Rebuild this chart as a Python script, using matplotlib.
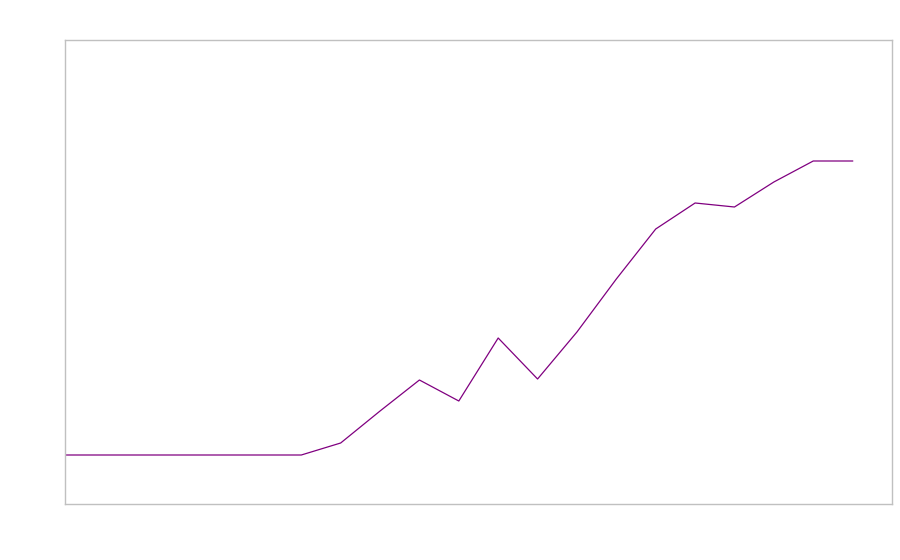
from matplotlib import pyplot as plt

# values (arbitrary units, no axis labels shown)
steps = list(range(21))
values = [49, 49, 49, 49, 49, 49, 49, 61, 93, 124, 103, 166, 125, 172, 225, 275, 301, 297, 322, 343, 343]

fig = plt.figure(figsize=(9, 5.6), dpi=100)
ax = fig.add_axes([65 / 900, 56 / 560, 827 / 900, 464 / 560])

ax.plot(steps, values, color="#800080", linewidth=0.9)

ax.set_xlim(0, 21)
ax.set_ylim(0, 464)
ax.set_xticks([])
ax.set_yticks([])
for side in ax.spines.values():
    side.set_color("#c0c0c0")
    side.set_linewidth(1)

fig.savefig("out.png", dpi=100)
